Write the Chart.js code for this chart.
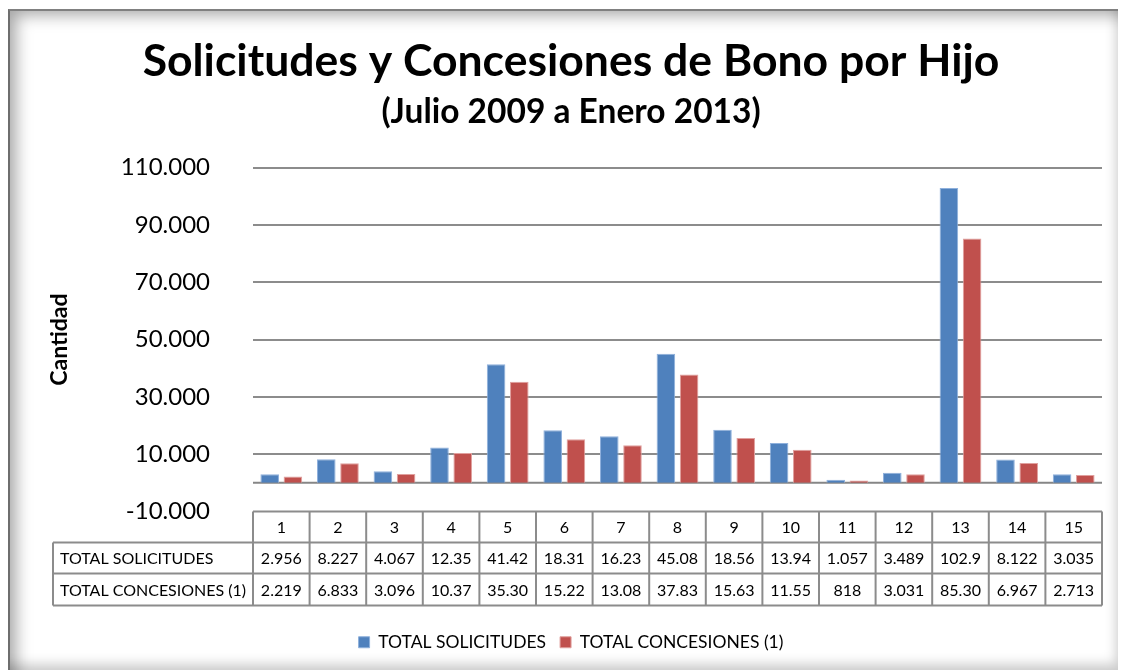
<!DOCTYPE html>
<html>
<head>
<style>
    body {
        margin: 0;
        background: #fff;
        overflow: hidden;
    }

    #marco {
        position: absolute;
        left: 8px;
        top: 9px;
        width: 1110px;
        height: 661px;
        box-sizing: border-box;
        border-left: 2px solid #6e6e6e;
        border-top: 2px solid #808080;
        box-shadow: inset 12px 10px 16px -6px rgba(0, 0, 0, 0.35), inset -8px -12px 12px -6px rgba(0, 0, 0, 0.2);
    }

    #contenedor {
        position: absolute;
        left: 0;
        top: 0;
        width: 1124px;
        height: 671px;
    }
</style>
<script src="https://cdn.jsdelivr.net/npm/chart.js"></script>
</head>
<body>
<div id="marco"></div>
<div id="contenedor"><canvas id="grafico"></canvas></div>

<script>
    const categorias = ['1', '2', '3', '4', '5', '6', '7', '8', '9', '10', '11', '12', '13', '14', '15'];
    const solicitudes = [2956, 8227, 4067, 12350, 41420, 18310, 16230, 45080, 18560, 13940, 1057, 3489, 102900, 8122, 3035];
    const concesiones = [2219, 6833, 3096, 10370, 35300, 15220, 13080, 37830, 15630, 11550, 818, 3031, 85300, 6967, 2713];
    // texto tal como aparece en la tabla de datos (truncado por Excel)
    const solicitudesTexto = ['2.956', '8.227', '4.067', '12.35', '41.42', '18.31', '16.23', '45.08', '18.56', '13.94', '1.057', '3.489', '102.9', '8.122', '3.035'];
    const concesionesTexto = ['2.219', '6.833', '3.096', '10.37', '35.30', '15.22', '13.08', '37.83', '15.63', '11.55', '818', '3.031', '85.30', '6.967', '2.713'];
    const series = ['TOTAL SOLICITUDES', 'TOTAL CONCESIONES (1)'];

    const fuente = "Lato, 'Open Sans', sans-serif";
    const colorLinea = '#8c8c8c';

    function miles(v) {
        const s = Math.abs(v).toString().replace(/\B(?=(\d{3})+(?!\d))/g, '.');
        return (v < 0 ? '-' : '') + s;
    }

    // eje horizontal en cero
    const lineaCero = {
        id: 'lineaCero',
        beforeDatasetsDraw(chart) {
            const ctx = chart.ctx, a = chart.chartArea;
            const y0 = chart.scales.y.getPixelForValue(0);
            ctx.save();
            ctx.strokeStyle = '#868686';
            ctx.lineWidth = 2;
            ctx.beginPath();
            ctx.moveTo(a.left, y0);
            ctx.lineTo(a.right, y0);
            ctx.stroke();
            ctx.restore();
        }
    };

    // tabla de datos bajo el grafico
    const tablaDatos = {
        id: 'tablaDatos',
        afterDraw(chart) {
            const ctx = chart.ctx, a = chart.chartArea, x = chart.scales.x;
            const paso = x.width / categorias.length;
            const filas = [a.bottom, a.bottom + 31, a.bottom + 62, a.bottom + 94];
            const izq = 53;
            ctx.save();
            ctx.strokeStyle = colorLinea;
            ctx.lineWidth = 2;
            ctx.beginPath();
            ctx.moveTo(a.left, filas[0]); ctx.lineTo(a.right, filas[0]);
            for (let f = 1; f < 4; f++) {
                ctx.moveTo(izq, filas[f]); ctx.lineTo(a.right, filas[f]);
            }
            ctx.moveTo(izq, filas[1]); ctx.lineTo(izq, filas[3]);
            for (let i = 0; i <= categorias.length; i++) {
                const xi = x.getPixelForValue(i) - paso / 2;
                ctx.moveTo(xi, filas[0]); ctx.lineTo(xi, filas[3]);
            }
            ctx.stroke();

            ctx.fillStyle = '#000';
            ctx.font = '16px ' + fuente;
            ctx.textBaseline = 'middle';
            ctx.textAlign = 'center';
            categorias.forEach((c, i) => {
                const xc = x.getPixelForValue(i);
                ctx.fillText(c, xc, (filas[0] + filas[1]) / 2 + 1);
                ctx.fillText(solicitudesTexto[i], xc, (filas[1] + filas[2]) / 2 + 1);
                ctx.fillText(concesionesTexto[i], xc, (filas[2] + filas[3]) / 2 + 1);
            });
            ctx.textAlign = 'left';
            ctx.fillText(series[0], izq + 7, (filas[1] + filas[2]) / 2 + 1);
            ctx.fillText(series[1], izq + 7, (filas[2] + filas[3]) / 2 + 1);
            ctx.restore();
        }
    };

    new Chart(document.getElementById('grafico'), {
        type: 'bar',
        data: {
            labels: categorias,
            datasets: [{
                label: series[0],
                data: solicitudes,
                backgroundColor: '#4f81bd',
                borderColor: '#8eb0dc',
                borderWidth: 1
            }, {
                label: series[1],
                data: concesiones,
                backgroundColor: '#c0504d',
                borderColor: '#e0a09e',
                borderWidth: 1
            }]
        },
        options: {
            responsive: true,
            maintainAspectRatio: false,
            animation: false,
            layout: { padding: { left: 40, right: 22, top: 0, bottom: 10 } },
            datasets: { bar: { categoryPercentage: 0.82, barPercentage: 0.8 } },
            plugins: {
                title: {
                    display: true,
                    text: 'Solicitudes y Concesiones de Bono por Hijo',
                    color: '#000',
                    font: { family: fuente, size: 44.5, weight: 'bold' },
                    padding: { top: 35, bottom: 0 }
                },
                subtitle: {
                    display: true,
                    text: '(Julio 2009 a Enero 2013)',
                    color: '#000',
                    font: { family: fuente, size: 33.5, weight: 'bold' },
                    padding: { top: 4, bottom: 35 }
                },
                legend: {
                    position: 'bottom',
                    labels: {
                        color: '#000',
                        font: { family: fuente, size: 17.5 },
                        boxWidth: 11,
                        boxHeight: 11,
                        padding: 14
                    }
                },
                tooltip: { enabled: false }
            },
            scales: {
                x: {
                    ticks: { display: false },
                    grid: { display: false },
                    border: { display: false },
                    afterFit(s) { s.height = 108; }
                },
                y: {
                    min: -10000,
                    max: 110000,
                    ticks: {
                        stepSize: 20000,
                        color: '#000',
                        padding: 43,
                        font: { family: fuente, size: 24 },
                        callback: v => miles(v)
                    },
                    grid: {
                        drawTicks: false,
                        lineWidth: 2,
                        color: c => (c.tick && c.tick.value === -10000) ? 'rgba(0,0,0,0)' : colorLinea
                    },
                    border: { display: false },
                    title: {
                        display: true,
                        text: 'Cantidad',
                        color: '#000',
                        font: { family: fuente, size: 23, weight: 'bold' },
                        padding: { top: 6 }
                    },
                    afterFit(s) { s.width = 213; }
                }
            }
        },
        plugins: [lineaCero, tablaDatos]
    });
</script>
</body>
</html>
